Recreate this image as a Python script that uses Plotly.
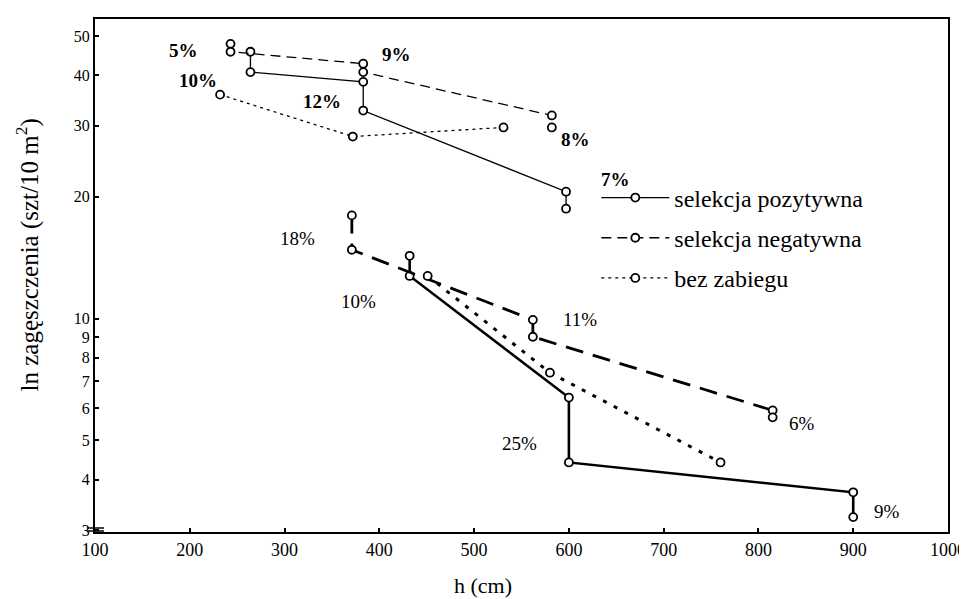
import math
import plotly.graph_objects as go

# ---- data ----
# upper stand (thin lines)
pos_top_x = [264, 264, 383, 383, 597, 597]
pos_top_y = [45.7, 40.7, 38.5, 32.7, 20.6, 18.7]
neg_top_x = [243, 243, 383, 383, 582, 582]
neg_top_y = [47.8, 45.7, 42.7, 40.7, 31.8, 29.7]
ctl_top_x = [232, 372, 531]
ctl_top_y = [35.8, 28.2, 29.7]
# lower stand (thick lines)
pos_bot_x = [432, 432, 600, 600, 900, 900]
pos_bot_y = [14.3, 12.75, 6.38, 4.41, 3.72, 3.23]
neg_bot_x = [371, 371, 562, 562, 815, 815]
neg_bot_y = [18.0, 14.8, 9.93, 9.02, 5.93, 5.70]
ctl_bot_x = [451, 580, 760]
ctl_bot_y = [12.75, 7.35, 4.41]

series_names = ["selekcja pozytywna", "selekcja negatywna", "bez zabiegu"]

x_ticks = [100, 200, 300, 400, 500, 600, 700, 800, 900, 1000]
y_ticks = [3, 4, 5, 6, 7, 8, 9, 10, 20, 30, 40, 50]

pct_labels = ["5%", "10%", "9%", "12%", "8%", "7%", "18%", "10%", "11%", "25%", "6%", "9%"]
pct_x = [193, 209, 418, 339, 607, 649, 314, 378, 612, 548, 846, 936]
pct_y = [45.9, 38.7, 45.1, 34.4, 27.7, 22.1, 15.8, 11.0, 9.93, 4.92, 5.51, 3.34]
pct_bold = [True, True, True, True, True, True, False, False, False, False, False, False]

FONT = "Liberation Serif"
BLACK = "#000000"
marker = dict(symbol="circle", size=8, color="white", line=dict(color=BLACK, width=1.8))

fig = go.Figure()

def add(x, y, name, width, dash, legend):
    fig.add_trace(go.Scatter(
        x=x, y=y, mode="lines+markers", name=name,
        line=dict(color=BLACK, width=width, dash=dash),
        marker=marker, showlegend=legend, legendgroup=name if legend else None,
    ))

add(pos_top_x, pos_top_y, series_names[0], 1.3, "solid", True)
add(neg_top_x, neg_top_y, series_names[1], 1.3, "10px,6px", True)
add(ctl_top_x, ctl_top_y, series_names[2], 1.3, "3px,4px", True)
add(pos_bot_x, pos_bot_y, series_names[0], 2.6, "solid", False)
add(neg_bot_x, neg_bot_y, series_names[1], 2.8, "18px,10px", False)
add(ctl_bot_x, ctl_bot_y, series_names[2], 3.0, "4px,8px", False)

# percentage labels (annotation y on a log axis is given in log10 units)
for t, x, y, b in zip(pct_labels, pct_x, pct_y, pct_bold):
    fig.add_annotation(x=x, y=math.log10(y), text=f"<b>{t}</b>" if b else t, showarrow=False,
                       xanchor="center", yanchor="middle",
                       font=dict(family=FONT, size=19, color=BLACK))

# axis titles
fig.add_annotation(xref="paper", yref="paper", x=-0.078, y=0.54, textangle=-90,
                   xanchor="center", yanchor="middle",
                   text="ln zagęszczenia (szt/10 m<sup>2</sup>)", showarrow=False,
                   font=dict(family=FONT, size=25, color=BLACK))
fig.add_annotation(xref="paper", yref="paper", x=0.455, y=-0.105,
                   xanchor="center", yanchor="middle",
                   text="h (cm)", showarrow=False,
                   font=dict(family=FONT, size=22, color=BLACK))

# axis-break mark at the bottom of the y axis
for yy in (0.0078, 0.0019):
    fig.add_shape(type="line", xref="paper", yref="paper", x0=-0.0093, x1=0.0105,
                  y0=yy, y1=yy, line=dict(color=BLACK, width=1.5))

fig.update_xaxes(range=[100, 1000], tickvals=x_ticks, ticktext=[str(v) for v in x_ticks],
                 showgrid=False, zeroline=False, showline=True, linecolor=BLACK, linewidth=2,
                 mirror=True, ticks="inside", ticklen=4, tickcolor=BLACK, tickwidth=1.5,
                 tickfont=dict(family=FONT, size=18, color=BLACK))
fig.update_yaxes(type="log", range=[0.4724, 1.7409], tickvals=y_ticks,
                 ticktext=[str(v) for v in y_ticks],
                 showgrid=False, zeroline=False, showline=True, linecolor=BLACK, linewidth=2,
                 mirror=True, ticks="inside", ticklen=4, tickcolor=BLACK, tickwidth=1.5,
                 tickfont=dict(family=FONT, size=16, color=BLACK))

fig.update_layout(
    width=967, height=599,
    margin=dict(l=87, r=22, t=9, b=75),
    paper_bgcolor="white", plot_bgcolor="white",
    font=dict(family=FONT, color=BLACK),
    legend=dict(x=0.5877, y=0.695, xanchor="left", yanchor="top",
                bgcolor="rgba(0,0,0,0)", traceorder="grouped", tracegroupgap=6,
                font=dict(family=FONT, size=24, color=BLACK), itemwidth=68),
)

fig.write_html("out.html")
